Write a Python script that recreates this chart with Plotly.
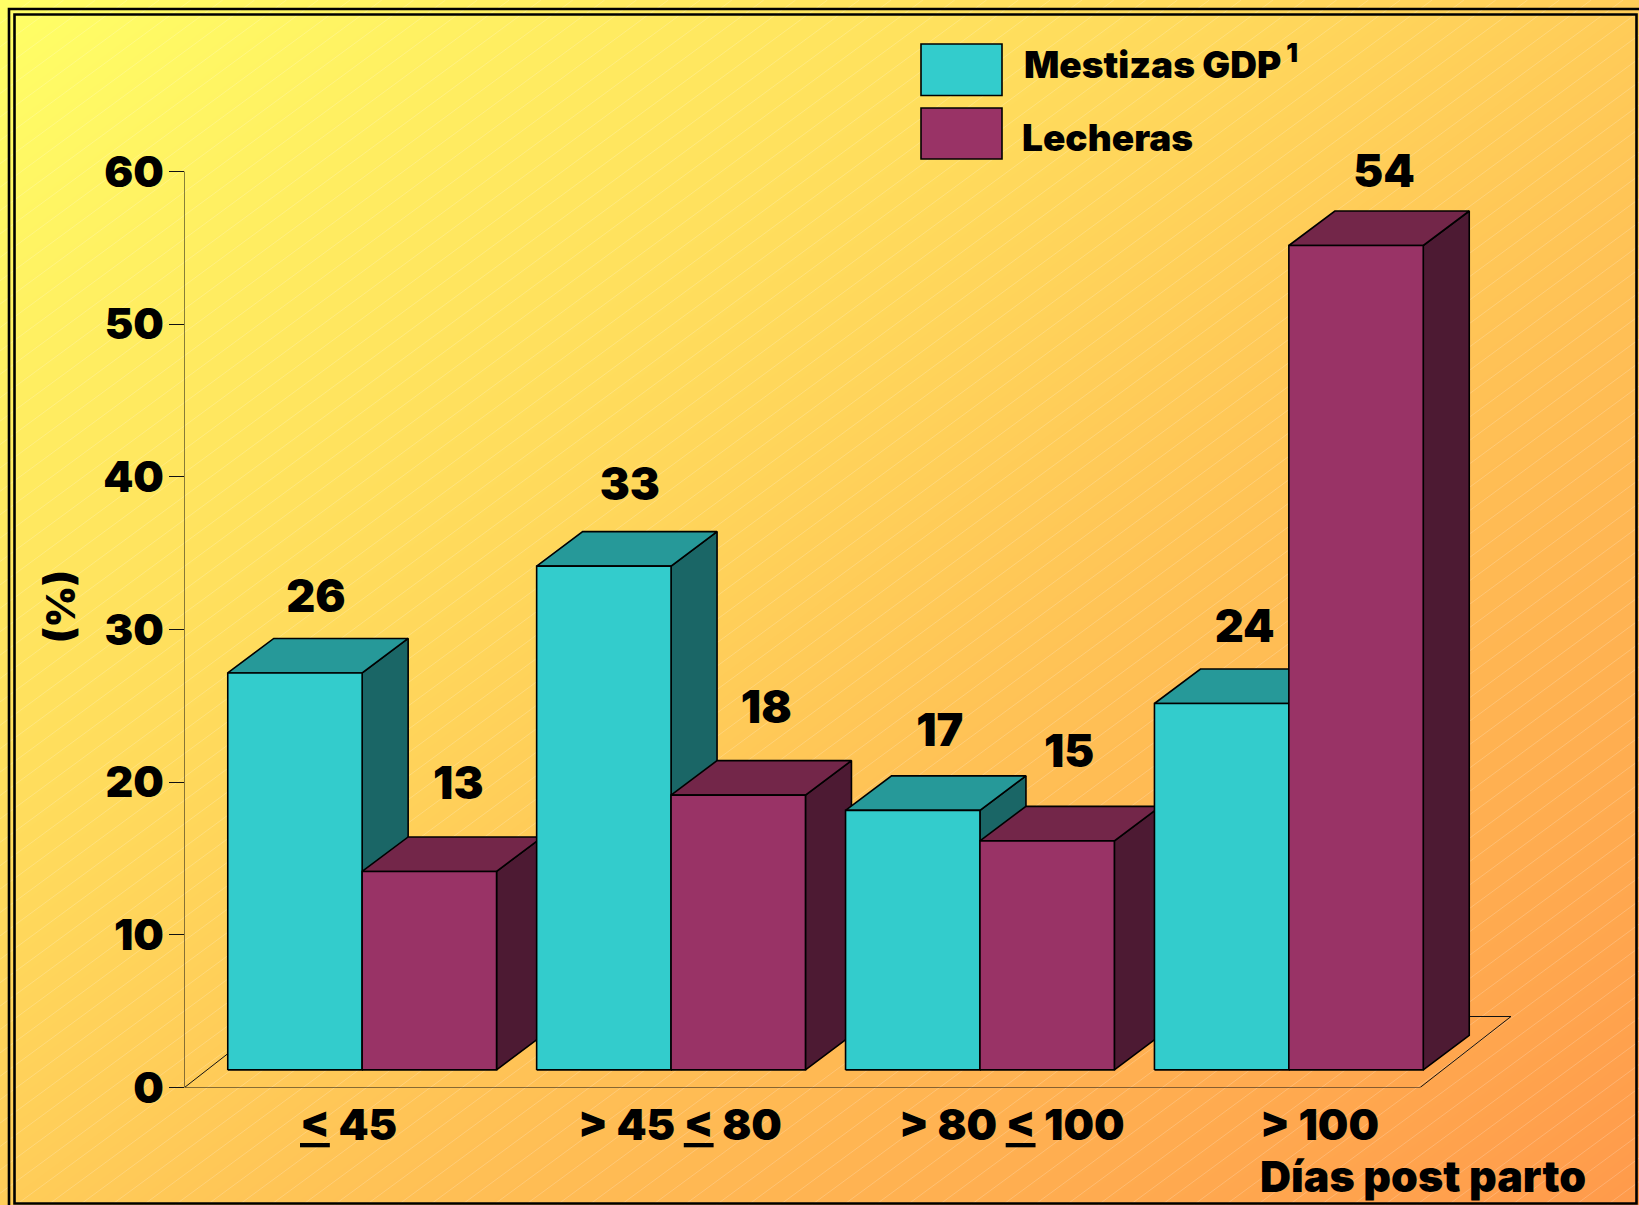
import plotly.graph_objects as go

# ---- data ----
CATEGORIES = ["<u>&lt;</u> 45", "&gt; 45 <u>&lt;</u> 80", "&gt; 80 <u>&lt;</u> 100", "&gt; 100"]
MESTIZAS = [26, 33, 17, 24]
LECHERAS = [13, 18, 15, 54]
Y_TICKS = [0, 10, 20, 30, 40, 50, 60]
SERIES_NAMES = ["Mestizas GDP\u2009<sup>1</sup>", "Lecheras"]
X_TITLE = "Días post parto"
Y_TITLE = "(%)"

# ---- layout constants (pixels of the 1639x1205 page) ----
W, H = 1639, 1205
X0_PX, X_END_PX = 184.5, 1545.0
Y0_PX, Y60_PX = 1087.5, 171.5
GROUP_PX = 308.9
Y_UNIT_PX = (Y0_PX - Y60_PX) / 60
Y_MAX = 66
Y_TOP_PX = Y0_PX - Y_MAX * Y_UNIT_PX
FLOOR_DX, FLOOR_DY = 90.9 / GROUP_PX, 71.0 / Y_UNIT_PX
DEPTH_DX, DEPTH_DY = 46 / GROUP_PX, 34.5 / Y_UNIT_PX
BASE_DY = 17.6 / Y_UNIT_PX
BAR_W = 134.4 / GROUP_PX

TEAL = ("#33CCCC", "#269999", "#1A6666")
MAROON = ("#993366", "#732649", "#4D1A33")
FONT = "Inter"
BLACK = "#000000"

# label nudges (pixels, right / up) relative to the front face top centre
NUDGE_M = [(21, 72), (26, 77), (27, 76), (23, 73)]
NUDGE_L = [(29, 84), (28, 83), (22, 85), (28, 70)]
X_LABEL_PX = [348, 680, 1012, 1319]


def px(x):
    return x / W


def py(y):
    return 1 - y / H


fig = go.Figure()

# background gradient + banding stripes, on the full page subplot
fig.add_trace(go.Heatmap(
    x=[0, W], y=[0, H], z=[[0, 0.5], [0.5, 1]], zsmooth="best", showscale=False,
    colorscale=[[0, "#FFFF66"], [1, "#FF9A4B"]], zmin=0, zmax=1, hoverinfo="skip",
    xaxis="x", yaxis="y"))
sx, sy = [], []
n_bands = 103
for i in range(1, n_bands):
    t = 2 * i / n_bands            # x/W + y/H = t
    if t <= 1:
        a, b = (t * W, 0), (0, t * H)
    else:
        a, b = (W, (t - 1) * H), ((t - 1) * W, H)
    sx += [a[0], b[0], None]
    sy += [a[1], b[1], None]
fig.add_trace(go.Scatter(x=sx, y=sy, mode="lines", hoverinfo="skip", showlegend=False,
                         line=dict(color="rgba(255,255,255,0.2)", width=1), xaxis="x", yaxis="y"))


def poly(xs, ys, fill, lw=1.6, color=BLACK):
    fig.add_trace(go.Scatter(
        x=xs + xs[:1], y=ys + ys[:1], mode="lines", fill="toself", fillcolor=fill,
        line=dict(color=color, width=lw), hoverinfo="skip", showlegend=False,
        xaxis="x2", yaxis="y2", cliponaxis=False))


# floor and the value axis line (which stops at the top tick)
nc = len(CATEGORIES)
fig.add_trace(go.Scatter(
    x=[0, 0, nc, nc + FLOOR_DX, FLOOR_DX, 0],
    y=[Y_TICKS[-1], 0, 0, FLOOR_DY, FLOOR_DY, 0],
    mode="lines", line=dict(color="#111111", width=1), hoverinfo="skip",
    showlegend=False, xaxis="x2", yaxis="y2", cliponaxis=False))


def bar3d(x_left, value, cols):
    x_right = x_left + BAR_W
    y0, y1 = BASE_DY, BASE_DY + value
    dx, dy = DEPTH_DX, DEPTH_DY
    poly([x_right, x_right + dx, x_right + dx, x_right], [y0, y0 + dy, y1 + dy, y1], cols[2])
    poly([x_left, x_left + dx, x_right + dx, x_right], [y1, y1 + dy, y1 + dy, y1], cols[1])
    poly([x_left, x_right, x_right, x_left], [y0, y0, y1, y1], cols[0])


lab_x, lab_y, lab_t = [], [], []
for i in range(nc):
    centre = i + 0.5 + 23.2 / GROUP_PX
    for val, cols, off, nudge in ((MESTIZAS[i], TEAL, -BAR_W, NUDGE_M[i]),
                                  (LECHERAS[i], MAROON, 0, NUDGE_L[i])):
        left = centre + off
        bar3d(left, val, cols)
        lab_x.append(left + BAR_W / 2 + nudge[0] / GROUP_PX)
        lab_y.append(BASE_DY + val + nudge[1] / Y_UNIT_PX)
        lab_t.append(str(val))

fig.add_trace(go.Scatter(
    x=lab_x, y=lab_y, text=lab_t, mode="text", textposition="middle center",
    textfont=dict(family=FONT, size=45, color=BLACK, weight=900), hoverinfo="skip",
    showlegend=False, xaxis="x2", yaxis="y2", cliponaxis=False))

shapes = []
for (x0, y0, x1, y1), fill in (((921, 44, 1002, 95.5), TEAL[0]), ((921, 108, 1002, 159), MAROON[0])):
    shapes.append(dict(type="rect", xref="paper", yref="paper", x0=px(x0), x1=px(x1), y0=py(y0), y1=py(y1),
                       fillcolor=fill, line=dict(color=BLACK, width=1.6)))
for x0, y0, x1, y1 in ((9, 9, W + 10, H + 10), (14.5, 14.5, 1636.5, 1203.5)):
    shapes.append(dict(type="rect", xref="paper", yref="paper", x0=px(x0), x1=px(x1), y0=py(y0), y1=py(y1),
                       fillcolor="rgba(0,0,0,0)", line=dict(color=BLACK, width=2.6)))


def note(text, x, y, size, anchor="left", angle=0):
    return dict(text=text, xref="paper", yref="paper", x=px(x), y=py(y), showarrow=False,
                xanchor=anchor, yanchor="middle", textangle=angle, align="left",
                font=dict(family=FONT, size=size, color=BLACK, weight=900))


annotations = [note(c, x, 1124, 43, "center") for c, x in zip(CATEGORIES, X_LABEL_PX)]
annotations += [
    note(X_TITLE, 1258, 1176, 43),
    note(Y_TITLE, 60, 607, 40, "center", -90),
    note(SERIES_NAMES[0], 1022, 62, 37),
    note(SERIES_NAMES[1], 1020, 137, 37),
]

fig.update_layout(
    width=W, height=H, margin=dict(l=0, r=0, t=0, b=0, autoexpand=False), showlegend=False,
    paper_bgcolor="#FFE066", plot_bgcolor="rgba(0,0,0,0)",
    xaxis=dict(domain=[0, 1], range=[0, W], visible=False, fixedrange=True),
    yaxis=dict(domain=[0, 1], range=[H, 0], visible=False, fixedrange=True),
    xaxis2=dict(domain=[px(X0_PX), px(X_END_PX)], range=[0, (X_END_PX - X0_PX) / GROUP_PX], visible=False,
                fixedrange=True, anchor="y2"),
    yaxis2=dict(domain=[py(Y0_PX), py(Y_TOP_PX)], range=[0, Y_MAX], anchor="x2", tickvals=Y_TICKS,
                showgrid=False, zeroline=False, showline=False,
                ticks="outside", ticklen=15, tickwidth=1, tickcolor="#111111", ticklabelstandoff=-4,
                tickfont=dict(family=FONT, size=43, color=BLACK, weight=900), fixedrange=True),
    shapes=shapes, annotations=annotations,
)

fig.write_html("out.html", post_script="document.body.style.margin='0';document.body.style.overflow='hidden';",
               config=dict(displayModeBar=False))
